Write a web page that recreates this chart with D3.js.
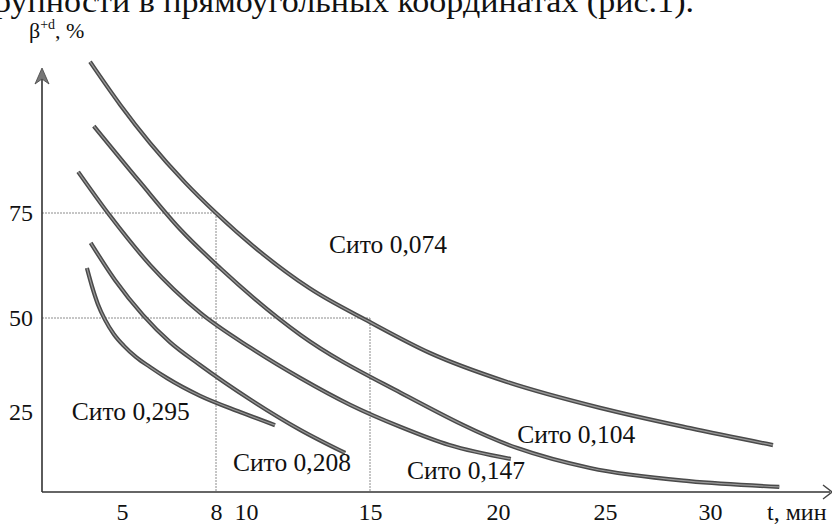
<!DOCTYPE html>
<html>
<head>
<meta charset="utf-8">
<script src="https://cdn.jsdelivr.net/npm/d3@7/dist/d3.min.js"></script>
<style>
  html, body { margin: 0; padding: 0; background: #fff; }
  svg { display: block; }
  text { font-family: "Liberation Serif", "DejaVu Serif", serif; fill: #111; }
</style>
</head>
<body>
<svg id="chart" width="832" height="525"></svg>
<script>
// ---- data ----
const xTicks = [5, 8, 10, 15, 20, 25, 30];
const yTicks = [25, 50, 75];
const seriesNames = ["Сито 0,074", "Сито 0,104", "Сито 0,147", "Сито 0,208", "Сито 0,295"];
const series074 = [[3.98,111],[4.94,100.8],[5.89,91.7],[7.01,82.3],[8,75],[10.56,65.8],[12.58,57.0],[15,48.9],[17.34,40.7],[20.42,33.0],[24.77,26.1],[29.05,20.7],[33.0,16.2]];
const series104 = [[4.1,95.7],[5.57,82.4],[6.85,71.2],[8.27,61.9],[12.2,45.5],[16.2,30.1],[20.9,15.4],[24.3,10.1],[29.0,6.6],[33.3,5.1]];
const series147 = [[3.6,84.8],[4.6,74.5],[5.9,62.6],[7.5,51.2],[10.2,42.0],[12.2,34.0],[14.2,26.9],[16.2,21.0],[18.1,16.2],[20.6,12.5]];
const series208 = [[4.0,67.9],[4.78,59.0],[5.67,50.7],[6.53,43.6],[7.49,37.5],[10.2,28.2],[12.2,20.2],[14.0,14.1]];
const series295 = [[3.88,61.9],[4.04,57.6],[4.23,53.3],[4.46,49.5],[4.74,45.7],[5.06,42.6],[5.45,39.6],[5.89,37.0],[6.44,34.0],[7.49,29.3],[9.6,25.0],[11.17,21.5]];
const guideRefs = [[8, 75], [15, 50]];           // dotted reference lines (t, β)
const labelAnchors = [[13.35,65.5],[20.9,16.8],[16.45,7.2],[9.13,9.3],[3.4,22.9]]; // label (t, β)
const xAxisTitle = "t, мин";
const yAxisTitle = ["β", "+d", ", %"];
const headerText = "рупности в прямоугольных координатах (рис.1).";

// ---- layout ----
const W = 832, H = 525;
const axisX = 42, axisY = 492, yTop = 68, xRight = 832;

// hand-drawn figure: tick positions are not evenly spaced, so piecewise-linear scales
const x = d3.scaleLinear().domain(xTicks).range([122, 216, 246, 370, 498, 605, 710]);
const y = d3.scaleLinear().domain(yTicks).range([412, 318, 213]);

const svg = d3.select("#chart");
svg.append("rect").attr("width", W).attr("height", H).attr("fill", "#fff");

// header text (cut off at the top)
svg.append("text").attr("x", -6).attr("y", 12)
  .attr("font-size", 31).attr("textLength", 700).attr("lengthAdjust", "spacingAndGlyphs")
  .text(headerText);

// guide lines
const guides = svg.append("g").attr("stroke", "#8c8c8c").attr("stroke-width", 1)
  .attr("stroke-dasharray", "2,1").attr("fill", "none");
guideRefs.forEach(([t, b]) => {
  guides.append("line").attr("x1", axisX).attr("x2", x(t)).attr("y1", y(b)).attr("y2", y(b));
  guides.append("line").attr("x1", x(t)).attr("x2", x(t)).attr("y1", y(b)).attr("y2", axisY);
});

// axes lines
svg.append("line").attr("x1", axisX).attr("x2", axisX).attr("y1", axisY).attr("y2", yTop + 8)
  .attr("stroke", "#333").attr("stroke-width", 1.6);
svg.append("line").attr("x1", axisX).attr("x2", xRight - 2).attr("y1", axisY).attr("y2", axisY)
  .attr("stroke", "#333").attr("stroke-width", 1.6);
svg.append("path")
  .attr("d", `M${axisX},${yTop} L${axisX-7},${yTop+16} L${axisX},${yTop+11} L${axisX+7},${yTop+16} Z`)
  .attr("fill", "#777").attr("stroke", "#444").attr("stroke-width", 0.8);
svg.append("path")
  .attr("d", `M${xRight-9},${axisY-7} L${xRight},${axisY} L${xRight-9},${axisY+7}`)
  .attr("fill", "none").attr("stroke", "#444").attr("stroke-width", 1.4);

// tick labels via d3 axes
const gx = svg.append("g").attr("transform", `translate(0,${axisY})`)
  .call(d3.axisBottom(x).tickValues(xTicks).tickSize(0).tickPadding(11).tickFormat(d3.format("d")));
gx.select(".domain").remove();
gx.selectAll("text").attr("font-size", 24).attr("font-family", "Liberation Serif").attr("fill", "#111");

const gy = svg.append("g").attr("transform", `translate(${axisX},0)`)
  .call(d3.axisLeft(y).tickValues(yTicks).tickSize(0).tickPadding(9).tickFormat(d3.format("d")));
gy.select(".domain").remove();
gy.selectAll("text").attr("font-size", 24).attr("font-family", "Liberation Serif").attr("fill", "#111");

// axis titles
svg.append("text").attr("x", 767).attr("y", 520).attr("font-size", 24).text(xAxisTitle);
const yt = svg.append("text").attr("x", 29).attr("y", 38).attr("font-size", 22);
yt.append("tspan").text(yAxisTitle[0]);
yt.append("tspan").attr("font-size", 14).attr("dy", -9).text(yAxisTitle[1]);
yt.append("tspan").attr("dy", 9).text(yAxisTitle[2]);

// curves
const line = d3.line().x(d => x(d[0])).y(d => y(d[1])).curve(d3.curveMonotoneX);
const allSeries = [series074, series104, series147, series208, series295];
const gc = svg.append("g").attr("fill", "none");
allSeries.forEach(s => {
  gc.append("path").attr("d", line(s)).attr("stroke", "#4a4a4a").attr("stroke-width", 4.2);
  gc.append("path").attr("d", line(s)).attr("stroke", "#9a9a9a").attr("stroke-width", 1.2);
});

// curve labels
seriesNames.forEach((n, i) => {
  svg.append("text").attr("x", x(labelAnchors[i][0])).attr("y", y(labelAnchors[i][1]))
    .attr("font-size", 25.5).text(n);
});
</script>
</body>
</html>
